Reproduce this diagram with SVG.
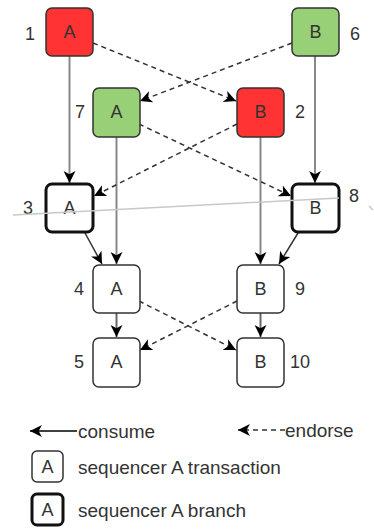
<svg xmlns="http://www.w3.org/2000/svg" width="374" height="529" viewBox="0 0 374 529">
<style>
.n{stroke:#333;stroke-width:1.5}
.b{stroke:#111;stroke-width:3}
.red{fill:#ff3333}
.grn{fill:#97d077}
.wht{fill:#fff}
.t{font-family:"Liberation Sans",Arial,sans-serif;font-size:18px;fill:#333;text-anchor:middle;dominant-baseline:central}
.lab{font-family:"Liberation Sans",Arial,sans-serif;font-size:18px;fill:#333;dominant-baseline:central}
.leg{font-family:"Liberation Sans",Arial,sans-serif;font-size:19px;fill:#333;dominant-baseline:central}
.sol{stroke:#888;stroke-width:2;fill:none;marker-end:url(#ah)}
.sol2{stroke:#333;stroke-width:1.5;fill:none;marker-end:url(#ah)}
.sol3{stroke:#666;stroke-width:2;fill:none;marker-end:url(#ah)}
.dash{stroke:#333;stroke-width:1.5;stroke-dasharray:5 4;fill:none;marker-end:url(#ah)}
</style>
<defs>
<marker id="ah" markerUnits="userSpaceOnUse" markerWidth="13" markerHeight="13" viewBox="0 0 12 12" refX="11" refY="6" orient="auto">
<path d="M0,0.5 L11,6 L0,11.5 L3,6 Z" fill="#000"/>
</marker>
</defs>
<rect width="374" height="529" fill="#fff"/>
<g id="connectors">
<path class="sol" d="M69.5,56 L69.5,183"/>
<path class="sol" d="M116.5,137 L116.5,264"/>
<path class="sol" d="M315,56 L315,183"/>
<path class="sol" d="M260.5,137 L260.5,264"/>
<path class="sol2" d="M85,233 L102,264"/>
<path class="sol2" d="M298,233 L279,264"/>
<path class="sol3" d="M116.5,313 L116.5,337"/>
<path class="sol3" d="M260.5,313 L260.5,337"/>
<path class="dash" d="M93,43 L236,101"/>
<path class="dash" d="M292,43 L140,101"/>
<path class="dash" d="M139,124 L291,196"/>
<path class="dash" d="M237,124 L94,196"/>
<path class="dash" d="M139,301 L236,350"/>
<path class="dash" d="M237,301 L140,350"/>
</g>
<g id="n1"><rect class="n red" x="46" y="8" width="47" height="48" rx="6"/><text class="t" x="69.5" y="32">A</text><text class="lab" x="25" y="34">1</text></g>
<g id="n6"><rect class="n grn" x="292" y="8" width="47" height="48" rx="6"/><text class="t" x="315.5" y="32">B</text><text class="lab" x="350" y="34">6</text></g>
<g id="n7"><rect class="n grn" x="93" y="88" width="47" height="49" rx="6"/><text class="t" x="116.5" y="112">A</text><text class="lab" x="75" y="112">7</text></g>
<g id="n2"><rect class="n red" x="237" y="88" width="47" height="49" rx="6"/><text class="t" x="260.5" y="112">B</text><text class="lab" x="295" y="112">2</text></g>
<g id="n3"><rect class="b wht" x="46" y="184" width="47" height="48" rx="6"/><text class="t" x="69.5" y="208">A</text><text class="lab" x="23" y="208">3</text></g>
<g id="n8"><rect class="b wht" x="292" y="184" width="47" height="48" rx="6"/><text class="t" x="315.5" y="208">B</text><text class="lab" x="349" y="196">8</text></g>
<g id="grayline"><path d="M13,215 L339,198" stroke="#c8c8c8" stroke-width="1.5" fill="none"/><path d="M369,206 L373,210" stroke="#c8c8c8" stroke-width="1.5" fill="none"/></g>
<g id="n4"><rect class="n wht" x="93" y="265" width="47" height="48" rx="6"/><text class="t" x="116.5" y="289">A</text><text class="lab" x="74" y="289">4</text></g>
<g id="n9"><rect class="n wht" x="237" y="265" width="47" height="48" rx="6"/><text class="t" x="260.5" y="289">B</text><text class="lab" x="295" y="289">9</text></g>
<g id="n5"><rect class="n wht" x="93" y="338" width="47" height="49" rx="6"/><text class="t" x="116.5" y="362">A</text><text class="lab" x="74" y="362">5</text></g>
<g id="n10"><rect class="n wht" x="237" y="338" width="47" height="49" rx="6"/><text class="t" x="260.5" y="362">B</text><text class="lab" x="290" y="362">10</text></g>
<g id="legend">
<path d="M77,431 L30,431" stroke="#000" stroke-width="1.5" fill="none" marker-end="url(#ah)"/>
<text class="leg" x="78" y="431">consume</text>
<path d="M285,430 L238,430" stroke="#333" stroke-width="1.5" stroke-dasharray="5 4" fill="none" marker-end="url(#ah)"/>
<text class="leg" x="285" y="430">endorse</text>
<rect class="n wht" x="32" y="451" width="31" height="31" rx="5"/><text class="t" x="47.5" y="467">A</text>
<text class="leg" x="78" y="467">sequencer A transaction</text>
<rect class="b wht" x="32" y="494" width="31" height="31" rx="5"/><text class="t" x="47.5" y="510">A</text>
<text class="leg" x="78" y="510">sequencer A branch</text>
</g>
</svg>
